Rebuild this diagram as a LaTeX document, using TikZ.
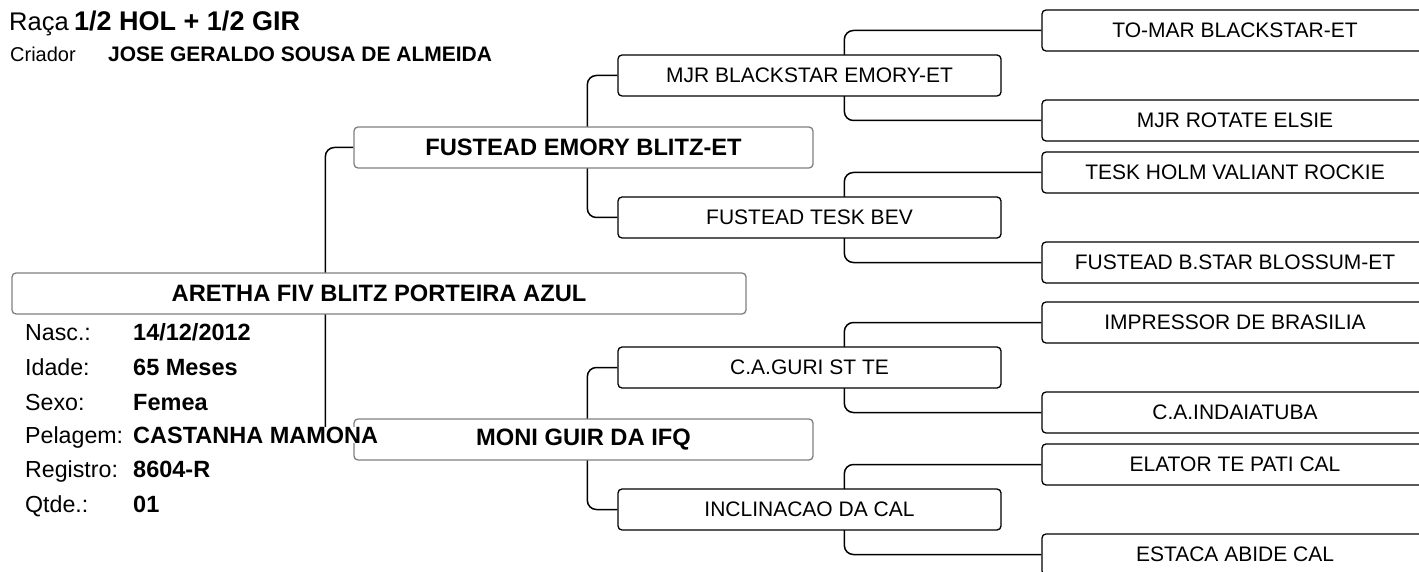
\documentclass[tikz,border=0pt]{standalone}
\usepackage{fontspec}
\setmainfont{Liberation Sans}
\usetikzlibrary{backgrounds}

\definecolor{boxgray}{RGB}{128,128,128}

\tikzset{
  anc/.style={draw=black, line width=1.3pt, rounded corners=4pt, fill=white,
    inner sep=0pt, minimum height=41pt, font=\fontsize{21}{25}\selectfont},
  gthree/.style={anc, minimum width=383pt},
  gfour/.style={anc, minimum width=386pt},
  lead/.style={anc, draw=boxgray, minimum width=459pt, font=\fontsize{23.7}{28}\selectfont\bfseries},
  link/.style={line width=1.5pt, rounded corners=9pt},
  lbl/.style={anchor=base west, inner sep=0pt, font=\fontsize{23.2}{27}\selectfont},
  val/.style={lbl, font=\fontsize{23.5}{27}\selectfont\bfseries}
}

\begin{document}
\begin{tikzpicture}[x=1pt,y=-1pt]
\useasboundingbox (0,0) rectangle (1419,572);
\clip (0,0) rectangle (1419,572);
% header
\node[lbl, font=\fontsize{25.5}{30}\selectfont] (raca) at (9,31) {Raça};
\node[lbl, font=\fontsize{27}{30}\selectfont\bfseries] (racaval) at (74,31) {1/2 HOL + 1/2 GIR};
\node[lbl, font=\fontsize{20}{24}\selectfont] (criador) at (10,62) {Criador};
\node[lbl, font=\fontsize{21}{24}\selectfont\bfseries] (criadorval) at (108,62) {JOSE GERALDO SOUSA DE ALMEIDA};
% the animal and its parents
\node[lead, minimum width=734pt] (aretha) at (379,293.5) {ARETHA FIV BLITZ PORTEIRA AZUL};
\node[lead] (sire) at (583.5,147.5) {FUSTEAD EMORY BLITZ-ET};
\node[lead] (dam)  at (583.5,439.5) {MONI GUIR DA IFQ};
% grandparents
\node[gthree] (ss) at (809.5, 75.5) {MJR BLACKSTAR EMORY-ET};
\node[gthree] (sd) at (809.5,217.5) {FUSTEAD TESK BEV};
\node[gthree] (ds) at (809.5,367.5) {C.A.GURI ST TE};
\node[gthree] (dd) at (809.5,509.5) {INCLINACAO DA CAL};
% great-grandparents, cut by the right edge
\node[gfour] (sss) at (1235, 30.5) {TO-MAR BLACKSTAR-ET};
\node[gfour] (ssd) at (1235,120.5) {MJR ROTATE ELSIE};
\node[gfour] (sds) at (1235,172.5) {TESK HOLM VALIANT ROCKIE};
\node[gfour] (sdd) at (1235,262.5) {FUSTEAD B.STAR BLOSSUM-ET};
\node[gfour] (dss) at (1235,322.5) {IMPRESSOR DE BRASILIA};
\node[gfour] (dsd) at (1235,412.5) {C.A.INDAIATUBA};
\node[gfour] (dds) at (1235,464.5) {ELATOR TE PATI CAL};
\node[gfour] (ddd) at (1235,554.5) {ESTACA ABIDE CAL};
% brackets behind the boxes
\begin{pgfonlayer}{background}
\draw[link] (sire.west) -- ++(-28,0) |- (dam.west);
\draw[link] (ss.west) -- ++(-30,0) |- (sd.west);
\draw[link] (ds.west) -- ++(-30,0) |- (dd.west);
\foreach \a/\b in {sss/ssd,sds/sdd,dss/dsd,dds/ddd}{
  \draw[link] (\a.west) -- ++(-197,0) |- (\b.west);
}
\end{pgfonlayer}
% data of the animal
\node[lbl] (nasc)  at (25,340)   {Nasc.:};
\node[val] (nascv) at (133,340)  {14/12/2012};
\node[lbl] (idade)  at (25,375) {Idade:};
\node[val] (idadev) at (133,375) {65 Meses};
\node[lbl] (sexo)  at (25,410)   {Sexo:};
\node[val] (sexov) at (133,410)  {Femea};
\node[lbl] (pelagem)  at (25,443) {Pelagem:};
\node[val, fill=white] (pelagemv) at (133,443) {CASTANHA MAMONA};
\node[lbl] (registro)  at (25,477) {Registro:};
\node[val] (registrov) at (133,477) {8604-R};
\node[lbl] (qtde)  at (25,512) {Qtde.:};
\node[val] (qtdev) at (133,512) {01};
\end{tikzpicture}
\end{document}
